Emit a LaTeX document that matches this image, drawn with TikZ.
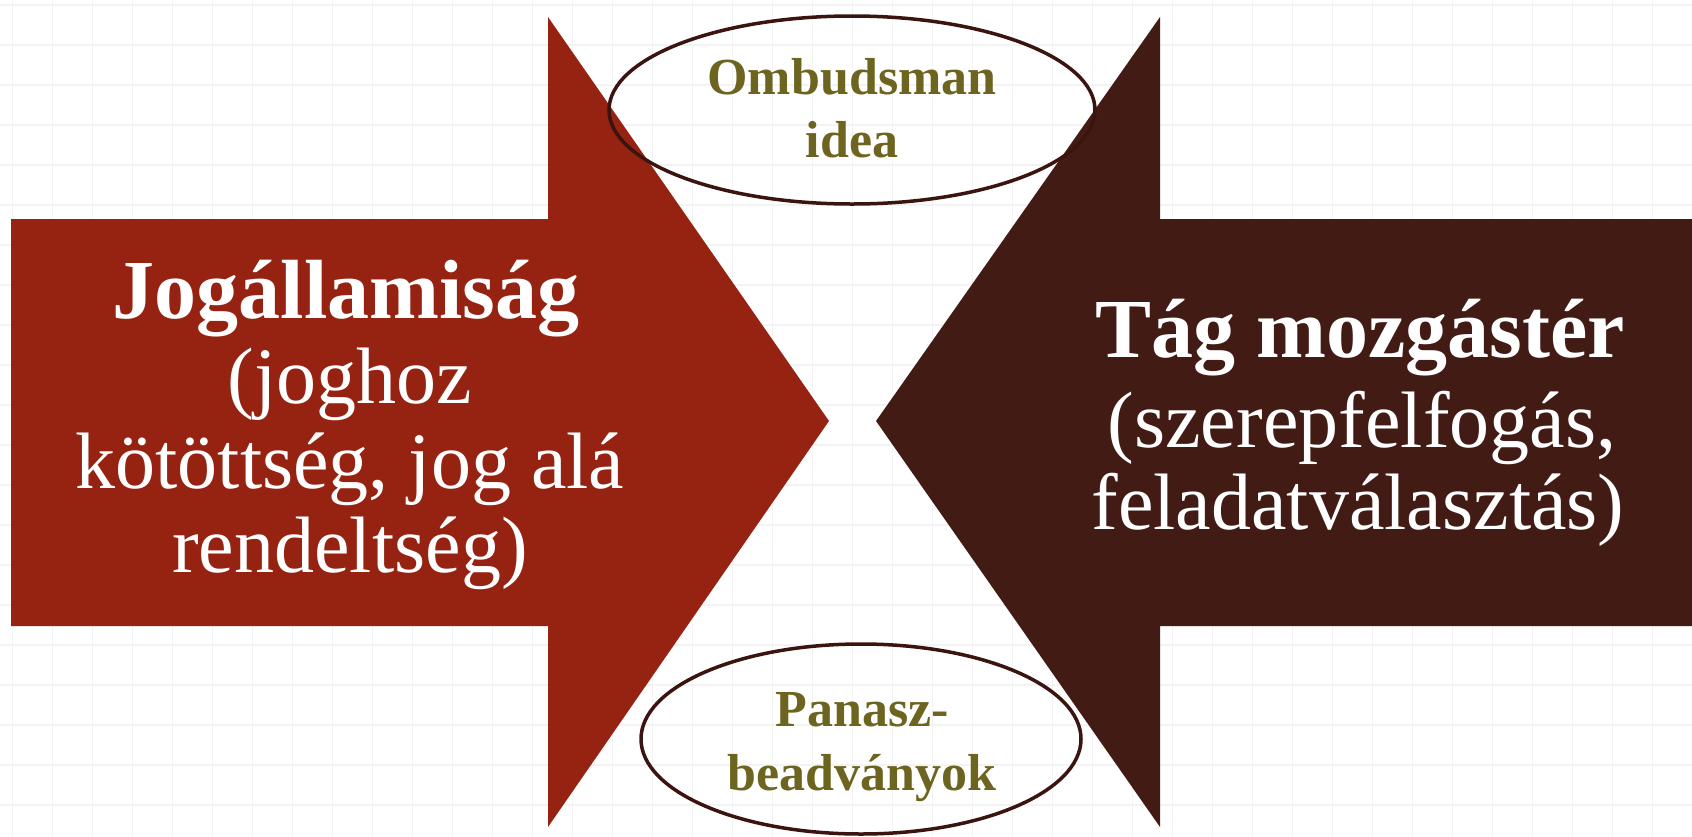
\documentclass[tikz,border=0pt]{standalone}
\usepackage{fontspec}
\setmainfont{Liberation Serif}
\definecolor{rust}{HTML}{962311}
\definecolor{darkbrown}{HTML}{431B15}
\definecolor{ellline}{HTML}{3B1410}
\definecolor{olive}{HTML}{6D6420}
\definecolor{gridc}{HTML}{F3F3F3}
\tikzset{
  bigbold/.style={anchor=base, inner sep=0pt, text=white, font=\fontsize{84}{90}\selectfont\bfseries},
  bigreg/.style={anchor=base, inner sep=0pt, text=white, font=\fontsize{80}{86}\selectfont},
  elltext/.style={anchor=base, inner sep=0pt, text=olive, font=\fontsize{52}{60}\selectfont\bfseries},
  ellbox/.style={draw=ellline, line width=3.5pt}
}
\begin{document}
\begin{tikzpicture}[x=1pt,y=-1pt]
\useasboundingbox[fill=white] (0,0) rectangle (1692,836);
% grid
\foreach \i in {0,...,42} {
  \draw[gridc, line width=1.5pt] (12.5+40*\i,0) -- (12.5+40*\i,836);
}
\foreach \j in {0,...,20} {
  \draw[gridc, line width=1.5pt] (0,5+40*\j) -- (1692,5+40*\j);
}
% arrows
\fill[rust] (11,219) -- (548,219) -- (548,17) -- (829,421) -- (548,827) -- (548,626) -- (11,626) -- cycle;
\fill[darkbrown] (1692,219) -- (1160,219) -- (1160,17) -- (876,421) -- (1160,827) -- (1160,626) -- (1692,626) -- cycle;
% ellipses
\draw[ellbox] (852,110) ellipse [x radius=243, y radius=94];
\draw[ellbox] (861,739) ellipse [x radius=220, y radius=95];
% left text
\node[bigbold] (j1) at (346,318) {Jogállamiság};
\node[bigreg] (j2) at (350,403) {(joghoz};
\node[bigreg] (j3) at (350,488) {kötöttség, jog alá};
\node[bigreg] (j4) at (350,572) {rendeltség)};
% right text
\node[bigbold] (t1) at (1360,357) {Tág mozgástér};
\node[bigreg] (t2) at (1362,447) {(szerepfelfogás,};
\node[bigreg] (t3) at (1358,529) {feladatválasztás)};
% ellipse text
\node[elltext] (o1) at (852,94) {Ombudsman};
\node[elltext] (o2) at (852,157) {idea};
\node[elltext] (p1) at (862,726) {Panasz-};
\node[elltext] (p2) at (862,790) {beadványok};
\end{tikzpicture}
\end{document}
